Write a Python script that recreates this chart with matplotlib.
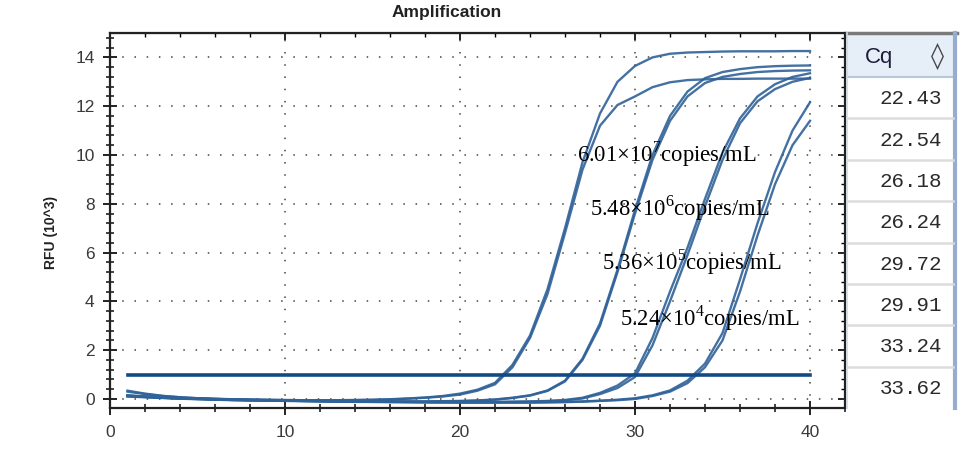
import matplotlib
matplotlib.use('Agg')
import matplotlib.pyplot as plt
from matplotlib.patches import Rectangle
from matplotlib.lines import Line2D
from matplotlib.ticker import MultipleLocator

plt.rcParams['font.family'] = ['Liberation Sans', 'DejaVu Sans']
plt.rcParams['mathtext.fontset'] = 'custom'
plt.rcParams['mathtext.rm'] = 'Liberation Serif'

# ---- data ------------------------------------------------------------------
cycles = list(range(1, 41))

# RFU (10^3) per cycle, eight wells (two per dilution)
rfu_a1 = [0.30, 0.20, 0.12, 0.07, 0.03, 0.01, -0.01, -0.02, -0.03, -0.04,
          -0.05, -0.05, -0.05, -0.04, -0.03, -0.01, 0.02, 0.06, 0.12, 0.22,
          0.38, 0.66, 1.40, 2.60, 4.50, 7.00, 9.70, 11.70, 13.00, 13.65,
          14.00, 14.15, 14.20, 14.22, 14.24, 14.25, 14.25, 14.25, 14.26, 14.26]
rfu_a2 = [0.12, 0.09, 0.06, 0.03, 0.01, 0.00, -0.02, -0.03, -0.04, -0.05,
          -0.06, -0.06, -0.06, -0.05, -0.04, -0.02, 0.01, 0.05, 0.10, 0.18,
          0.34, 0.60, 1.30, 2.50, 4.30, 6.80, 9.40, 11.20, 12.05, 12.40,
          12.78, 12.98, 13.07, 13.10, 13.12, 13.12, 13.13, 13.13, 13.13, 13.13]
rfu_b1 = [0.34, 0.22, 0.13, 0.07, 0.03, 0.00, -0.02, -0.04, -0.05, -0.06,
          -0.07, -0.08, -0.09, -0.09, -0.10, -0.10, -0.10, -0.10, -0.09, -0.08,
          -0.06, -0.02, 0.05, 0.15, 0.35, 0.75, 1.65, 3.10, 5.30, 7.75,
          10.00, 11.60, 12.60, 13.15, 13.40, 13.52, 13.60, 13.64, 13.66, 13.67]
rfu_b2 = [0.14, 0.10, 0.06, 0.03, 0.01, -0.01, -0.03, -0.04, -0.05, -0.06,
          -0.07, -0.08, -0.09, -0.10, -0.10, -0.11, -0.11, -0.11, -0.10, -0.09,
          -0.07, -0.03, 0.04, 0.14, 0.33, 0.72, 1.60, 3.00, 5.20, 7.60,
          9.80, 11.40, 12.40, 12.95, 13.20, 13.32, 13.40, 13.44, 13.46, 13.47]
rfu_c1 = [0.15, 0.10, 0.06, 0.03, 0.01, -0.01, -0.03, -0.05, -0.06, -0.07,
          -0.08, -0.09, -0.10, -0.10, -0.11, -0.11, -0.12, -0.12, -0.12, -0.12,
          -0.12, -0.12, -0.11, -0.10, -0.08, -0.04, 0.05, 0.25, 0.55, 1.05,
          2.50, 4.40, 6.20, 8.20, 10.10, 11.50, 12.40, 12.90, 13.20, 13.35]
rfu_c2 = [0.13, 0.09, 0.05, 0.02, 0.00, -0.02, -0.04, -0.05, -0.06, -0.07,
          -0.08, -0.09, -0.10, -0.11, -0.11, -0.12, -0.12, -0.13, -0.13, -0.13,
          -0.13, -0.13, -0.12, -0.11, -0.09, -0.06, 0.02, 0.20, 0.45, 0.90,
          2.20, 4.00, 5.90, 7.90, 9.80, 11.30, 12.20, 12.70, 13.00, 13.16]
rfu_d1 = [0.12, 0.08, 0.05, 0.02, 0.00, -0.02, -0.04, -0.05, -0.06, -0.07,
          -0.08, -0.09, -0.10, -0.11, -0.12, -0.12, -0.13, -0.13, -0.14, -0.14,
          -0.14, -0.14, -0.14, -0.14, -0.13, -0.12, -0.10, -0.07, -0.03, 0.03,
          0.15, 0.35, 0.75, 1.45, 2.70, 4.90, 7.20, 9.30, 11.00, 12.16]
rfu_d2 = [0.10, 0.07, 0.04, 0.01, -0.01, -0.03, -0.05, -0.06, -0.07, -0.08,
          -0.09, -0.10, -0.11, -0.12, -0.12, -0.13, -0.13, -0.14, -0.14, -0.15,
          -0.15, -0.15, -0.15, -0.15, -0.14, -0.13, -0.11, -0.08, -0.05, 0.00,
          0.12, 0.30, 0.65, 1.30, 2.40, 4.40, 6.70, 8.80, 10.40, 11.40]
curves = [rfu_a1, rfu_a2, rfu_b1, rfu_b2, rfu_c1, rfu_c2, rfu_d1, rfu_d2]

threshold = 1.0
cq_values = ['22.43', '22.54', '26.18', '26.24', '29.72', '29.91', '33.24', '33.62']

labels = ['6.01×10$^{\\mathrm{7}}$copies/mL', '5.48×10$^{\\mathrm{6}}$copies/mL',
          '5.36×10$^{\\mathrm{5}}$copies/mL', '5.24×10$^{\\mathrm{4}}$copies/mL']
label_x = [26.7, 27.45, 28.1, 29.15]
label_y = [9.72, 7.5, 5.32, 3.03]

# ---- figure -----------------------------------------------------------------
W, H = 976, 455
fig = plt.figure(figsize=(W / 100, H / 100), dpi=100)


def fx(px):
    return px / W


def fy(py):
    return 1 - py / H


ax = fig.add_axes([fx(110), fy(408), fx(845) - fx(110), fy(33) - fy(408)])

for vals in curves:
    ax.plot(cycles, vals, color='#2f6298', lw=1.7, alpha=0.9,
            solid_joinstyle='round')
ax.plot([cycles[0], cycles[-1]], [threshold, threshold], color='#124a86', lw=2.6)

ax.set_xlim(0, 42)
ax.set_ylim(-0.37, 15)
ax.xaxis.set_major_locator(MultipleLocator(10))
ax.xaxis.set_minor_locator(MultipleLocator(2))
ax.yaxis.set_minor_locator(MultipleLocator(0.4))
ax.set_yticks(range(0, 15, 2))

ax.grid(True, which='major', color='#444444', linestyle=(0, (1, 7)), lw=1.1)
for s in ax.spines.values():
    s.set_color('#222222')
    s.set_linewidth(1.6)

ax.tick_params(which='major', direction='inout', length=10, width=1.4,
               color='#222222', labelsize=12.5, labelcolor='#3a3a3a', pad=6)
ax.tick_params(which='minor', direction='inout', length=6, width=1.2, color='#222222')
ax.tick_params(axis='x', which='major', pad=7)

top = ax.secondary_xaxis('top')
top.xaxis.set_major_locator(MultipleLocator(10))
top.xaxis.set_minor_locator(MultipleLocator(2))
top.tick_params(which='major', direction='in', length=5, width=1.2, labeltop=False)
top.tick_params(which='minor', direction='in', length=3, width=1.0)
right = ax.secondary_yaxis('right')
right.yaxis.set_major_locator(MultipleLocator(2))
right.yaxis.set_minor_locator(MultipleLocator(0.4))
right.tick_params(which='major', direction='in', length=5, width=1.2, labelright=False)
right.tick_params(which='minor', direction='in', length=3, width=1.0)

for t, x, y in zip(labels, label_x, label_y):
    ax.text(x, y, t, family='Liberation Serif', fontsize=16.3, color='black',
            ha='left', va='baseline')

fig.text(fx(447), fy(12), 'Amplification', ha='center', va='center',
         fontsize=12.5, fontweight='bold', color='#222222')
fig.text(fx(51), fy(232), 'RFU (10^3)', ha='center', va='center', rotation=90,
         fontsize=10, fontweight='bold', color='#222222')

# ---- Cq table on the right ----------------------------------------------------
tl, tr, ttop, thead, tbot = 847, 953, 34, 77, 408
row_h = (tbot - thead) / len(cq_values)

fig.add_artist(Rectangle((fx(tl), fy(thead)), fx(tr) - fx(tl), fy(ttop) - fy(thead),
                         transform=fig.transFigure, facecolor='#e6eef8',
                         edgecolor='none'))
fig.add_artist(Line2D([fx(tl), fx(tr)], [fy(thead), fy(thead)], color='#b7c9e0', lw=1.5))
fig.add_artist(Line2D([fx(tl), fx(957)], [fy(33), fy(33)], color='#7a7a7a', lw=2.5))
fig.add_artist(Line2D([fx(tl), fx(tl)], [fy(33), fy(tbot)], color='#d0d8e4', lw=1.2))
fig.add_artist(Line2D([fx(955), fx(955)], [fy(33), fy(tbot)], color='#98acd0', lw=3))
fig.text(fx(865), fy(58), 'Cq', ha='left', va='center', fontsize=16, color='#1c1c3c')
fig.text(fx(937), fy(57), '◊', ha='center', va='center', fontsize=19,
         family='DejaVu Sans', color='#444444')

for i, v in enumerate(cq_values):
    yc = thead + row_h * (i + 0.5)
    fig.text(fx(942), fy(yc + 1), v, ha='right', va='center',
             fontsize=15, family='Liberation Mono', color='#2a2a2a')
    if i < len(cq_values) - 1:
        yb = thead + row_h * (i + 1)
        fig.add_artist(Line2D([fx(tl), fx(tr)], [fy(yb), fy(yb)], color='#dcdcdc', lw=1.8))

fig.savefig('out.png', dpi=100)
